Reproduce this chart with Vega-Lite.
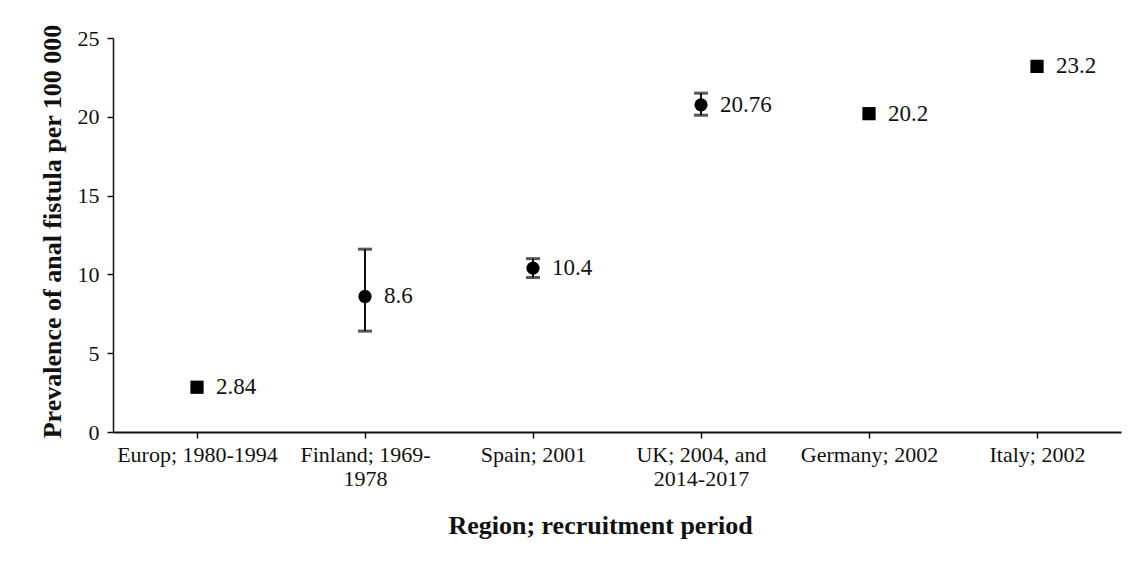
{
  "$schema": "https://vega.github.io/schema/vega-lite/v6.json",
  "autosize": "none",
  "padding": {"left": 113, "top": 38, "right": 15, "bottom": 131},
  "width": 1008,
  "height": 394,
  "background": "white",
  "config": {
    "view": {"stroke": null},
    "font": "Liberation Serif",
    "axis": {"labelFont": "Liberation Serif", "titleFont": "Liberation Serif", "labelColor": "#111", "titleColor": "#111", "domainColor": "#111", "tickColor": "#111", "grid": false}
  },
  "data": {
    "values": [
      {"region": "Europ; 1980-1994", "prevalence": 2.84, "lo": null, "hi": null, "marker": "square", "label": "2.84"},
      {"region": "Finland; 1969-|1978", "prevalence": 8.6, "lo": 6.4, "hi": 11.6, "marker": "circle", "label": "8.6"},
      {"region": "Spain; 2001", "prevalence": 10.4, "lo": 9.8, "hi": 11.0, "marker": "circle", "label": "10.4"},
      {"region": "UK; 2004, and|2014-2017", "prevalence": 20.76, "lo": 20.1, "hi": 21.5, "marker": "circle", "label": "20.76"},
      {"region": "Germany; 2002", "prevalence": 20.2, "lo": null, "hi": null, "marker": "square", "label": "20.2"},
      {"region": "Italy; 2002", "prevalence": 23.2, "lo": null, "hi": null, "marker": "square", "label": "23.2"}
    ]
  },
  "encoding": {
    "x": {
      "field": "region",
      "type": "nominal",
      "sort": ["Europ; 1980-1994", "Finland; 1969-|1978", "Spain; 2001", "UK; 2004, and|2014-2017", "Germany; 2002", "Italy; 2002"],
      "scale": {"type": "point", "padding": 0.5},
      "axis": {
        "title": "Region; recruitment period",
        "titleFontSize": 26,
        "titleFontWeight": "bold",
        "titleX": 487,
        "titleY": 93,
        "titleBaseline": "middle",
        "titleAnchor": null,
        "labelExpr": "split(datum.label, '|')",
        "labelAngle": 0,
        "labelFontSize": 22,
        "labelLineHeight": 24,
        "labelPadding": 6,
        "tickSize": 6,
        "tickWidth": 1.5,
        "domainWidth": 2
      }
    }
  },
  "layer": [
    {
      "mark": {"type": "rule", "color": "#111", "strokeWidth": 2},
      "encoding": {
        "y": {"field": "lo", "type": "quantitative"},
        "y2": {"field": "hi"}
      }
    },
    {
      "mark": {"type": "tick", "color": "#111", "size": 14, "thickness": 3, "orient": "horizontal"},
      "encoding": {"y": {"field": "lo", "type": "quantitative"}}
    },
    {
      "mark": {"type": "tick", "color": "#111", "size": 14, "thickness": 3, "orient": "horizontal"},
      "encoding": {"y": {"field": "hi", "type": "quantitative"}}
    },
    {
      "mark": {"type": "point", "filled": true, "color": "#000", "opacity": 1, "size": 175},
      "encoding": {
        "y": {
          "field": "prevalence",
          "type": "quantitative",
          "scale": {"domain": [0, 25], "nice": false},
          "axis": {
            "title": "Prevalence of anal fistula  per 100 000",
            "titleFontSize": 26,
            "titleFontWeight": "bold",
            "titleAngle": -90,
            "titleX": -61,
            "titleY": 193,
            "titleAlign": "center",
            "titleBaseline": "middle",
            "titleAnchor": null,
            "values": [0, 5, 10, 15, 20, 25],
            "labelFontSize": 22,
            "labelPadding": 8,
            "tickSize": 6,
            "tickWidth": 1.5,
            "domainWidth": 1.5
          }
        },
        "shape": {"field": "marker", "type": "nominal", "scale": {"domain": ["circle", "square"], "range": ["circle", "square"]}, "legend": null}
      }
    },
    {
      "mark": {"type": "text", "align": "left", "baseline": "middle", "dx": 19, "fontSize": 23, "color": "#111", "font": "Liberation Serif"},
      "encoding": {
        "y": {"field": "prevalence", "type": "quantitative"},
        "text": {"field": "label"}
      }
    }
  ]
}
